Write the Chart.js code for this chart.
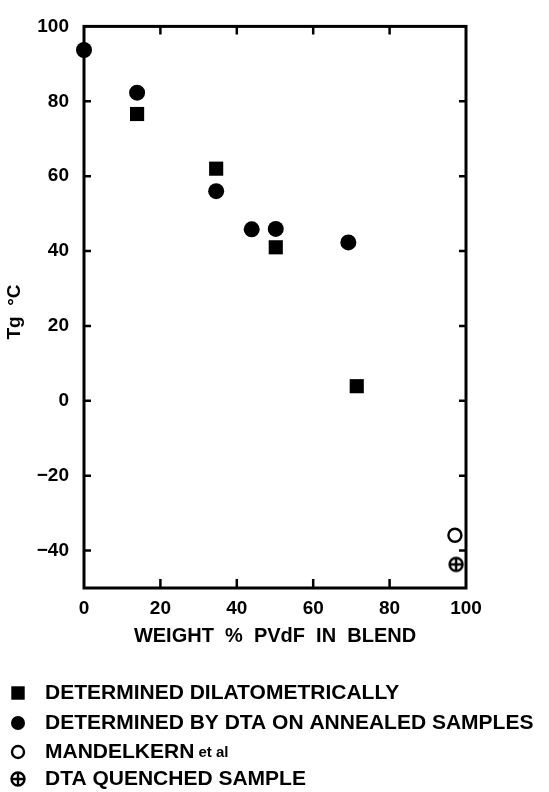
<!DOCTYPE html>
<html>
<head>
<meta charset="utf-8">
<script src="https://cdn.jsdelivr.net/npm/chart.js@4.4.1/dist/chart.umd.min.js"></script>
<style>
    html, body { margin: 0; padding: 0; background: #fff; }
</style>
</head>
<body>
<canvas id="tgChart" width="549" height="792"></canvas>
<script>
// 軸の目盛
const xTicks = [0, 20, 40, 60, 80, 100];
const yTicks = [-40, -20, 0, 20, 40, 60, 80, 100];

// 膨張計で測定 (■)
const dilatometricX = [13.9, 34.6, 50.2, 71.4];
const dilatometricY = [76.6, 62.0, 41.0, 3.9];

// DTA 焼鈍試料 (●)
const annealedX = [0, 13.9, 34.6, 43.9, 50.2, 69.2];
const annealedY = [93.7, 82.3, 56.0, 45.8, 45.9, 42.3];

// Mandelkern et al (○)
const mandelkernX = [97.1];
const mandelkernY = [-35.9];

// DTA 急冷試料 (⊕)
const quenchedX = [97.4];
const quenchedY = [-43.7];

const seriesLabels = [
    'DETERMINED DILATOMETRICALLY',
    'DETERMINED BY DTA ON ANNEALED SAMPLES',
    'MANDELKERN et al',
    'DTA QUENCHED SAMPLE'
];
const xTitle = 'WEIGHT  %  PVdF  IN  BLEND';
const yTitle = 'Tg  °C';

const FONT = 'Liberation Sans, Arial, Helvetica, sans-serif';

// ⊕ 記号はキャンバスで作る
function makeCrossedCircle(size, r, lw) {
    const c = document.createElement('canvas');
    c.width = size;
    c.height = size;
    const g = c.getContext('2d');
    const m = size / 2;
    g.fillStyle = '#fff';
    g.strokeStyle = '#000';
    g.lineWidth = lw;
    g.beginPath();
    g.arc(m, m, r, 0, Math.PI * 2);
    g.fill();
    g.stroke();
    g.beginPath();
    g.moveTo(m - r, m);
    g.lineTo(m + r, m);
    g.moveTo(m, m - r);
    g.lineTo(m, m + r);
    g.stroke();
    return c;
}
const crossedCircle = makeCrossedCircle(18, 6.5, 2.4);

function toPoints(xs, ys) {
    return xs.map((x, i) => ({ x: x, y: ys[i] }));
}

const datasets = [
    {
        label: seriesLabels[0],
        data: toPoints(dilatometricX, dilatometricY),
        pointStyle: 'rect',
        pointRadius: 10,
        backgroundColor: '#000',
        borderColor: '#000',
        borderWidth: 0,
        clip: false
    },
    {
        label: seriesLabels[1],
        data: toPoints(annealedX, annealedY),
        pointStyle: 'circle',
        pointRadius: 8,
        backgroundColor: '#000',
        borderColor: '#000',
        borderWidth: 0,
        clip: false
    },
    {
        label: seriesLabels[2],
        data: toPoints(mandelkernX, mandelkernY),
        pointStyle: 'circle',
        pointRadius: 6.5,
        backgroundColor: '#fff',
        borderColor: '#000',
        borderWidth: 2.4,
        clip: false
    },
    {
        label: seriesLabels[3],
        data: toPoints(quenchedX, quenchedY),
        pointStyle: crossedCircle,
        pointRadius: 8,
        backgroundColor: '#fff',
        borderColor: '#000',
        borderWidth: 0,
        clip: false
    }
];

// 枠と内向きの目盛
const framePlugin = {
    id: 'frame',
    beforeDatasetsDraw(chart) {
        const ctx = chart.ctx;
        const a = chart.chartArea;
        const xs = chart.scales.x;
        const ys = chart.scales.y;
        ctx.save();
        ctx.strokeStyle = '#000';
        ctx.lineWidth = 2.5;
        ctx.beginPath();
        xTicks.slice(1, -1).forEach(v => {
            const px = xs.getPixelForValue(v);
            ctx.moveTo(px, a.bottom);
            ctx.lineTo(px, a.bottom - 9);
            ctx.moveTo(px, a.top);
            ctx.lineTo(px, a.top + 8);
        });
        yTicks.forEach(v => {
            if (v === 100) return;
            const py = ys.getPixelForValue(v);
            ctx.moveTo(a.left, py);
            ctx.lineTo(a.left + 7, py);
            ctx.moveTo(a.right, py);
            ctx.lineTo(a.right - 7, py);
        });
        ctx.stroke();
        ctx.lineWidth = 3;
        ctx.strokeRect(a.left, a.top, a.right - a.left, a.bottom - a.top);
        ctx.restore();
    },
    afterDraw(chart) {
        const ctx = chart.ctx;
        ctx.save();
        // 縦軸タイトル
        ctx.translate(15, 312);
        ctx.rotate(-Math.PI / 2);
        ctx.fillStyle = '#000';
        ctx.font = 'bold 19px ' + FONT;
        ctx.textAlign = 'center';
        ctx.textBaseline = 'middle';
        ctx.fillText(yTitle, 0, 0);
        ctx.restore();

        // 凡例
        const rows = [693, 723, 752, 779];
        chart.data.datasets.forEach((ds, i) => {
            const y = rows[i];
            ctx.save();
            ctx.fillStyle = ds.backgroundColor;
            ctx.strokeStyle = ds.borderColor;
            ctx.lineWidth = ds.borderWidth;
            Chart.helpers.drawPoint(ctx, {
                pointStyle: ds.pointStyle,
                radius: ds.pointStyle === 'rect' ? 9.5 : (i === 1 ? 7 : 6),
                borderWidth: ds.borderWidth,
                rotation: 0
            }, 18, y);
            ctx.restore();

            ctx.save();
            ctx.fillStyle = '#000';
            ctx.textBaseline = 'middle';
            ctx.textAlign = 'left';
            const m = ds.label.match(/^([^a-z]*?)(\s+[a-z].*)?$/);
            ctx.font = 'bold 21px ' + FONT;
            ctx.fillText(m[1], 45, y);
            if (m[2]) {
                const w = ctx.measureText(m[1]).width;
                ctx.font = 'bold 15px ' + FONT;
                ctx.fillText(m[2], 45 + w, y + 1);
            }
            ctx.restore();
        });
    }
};

const tickFont = { family: FONT, size: 19, weight: 'bold' };

new Chart(document.getElementById('tgChart'), {
    type: 'scatter',
    data: { datasets: datasets },
    options: {
        responsive: false,
        animation: false,
        layout: { padding: { left: 0, top: 15, right: 83, bottom: 144 } },
        plugins: {
            legend: { display: false },
            tooltip: { enabled: false }
        },
        scales: {
            x: {
                type: 'linear',
                min: 0,
                max: 100,
                afterBuildTicks: s => { s.ticks = xTicks.map(v => ({ value: v })); },
                afterFit: s => { s.height = 60; },
                grid: { display: false, drawTicks: false },
                border: { display: false },
                ticks: { font: tickFont, color: '#000', padding: 9, maxRotation: 0 },
                title: {
                    display: true,
                    text: xTitle,
                    font: { family: FONT, size: 20, weight: 'bold' },
                    color: '#000',
                    padding: { top: 2, bottom: 0 }
                }
            },
            y: {
                type: 'linear',
                min: -50,
                max: 100,
                afterBuildTicks: s => { s.ticks = yTicks.map(v => ({ value: v })); },
                afterFit: s => { s.width = 84; },
                grid: { display: false, drawTicks: false },
                border: { display: false },
                ticks: {
                    font: tickFont,
                    color: '#000',
                    padding: 15,
                    callback: v => v < 0 ? '\u2212' + Math.abs(v) : String(v)
                }
            }
        }
    },
    plugins: [framePlugin]
});
</script>
</body>
</html>
